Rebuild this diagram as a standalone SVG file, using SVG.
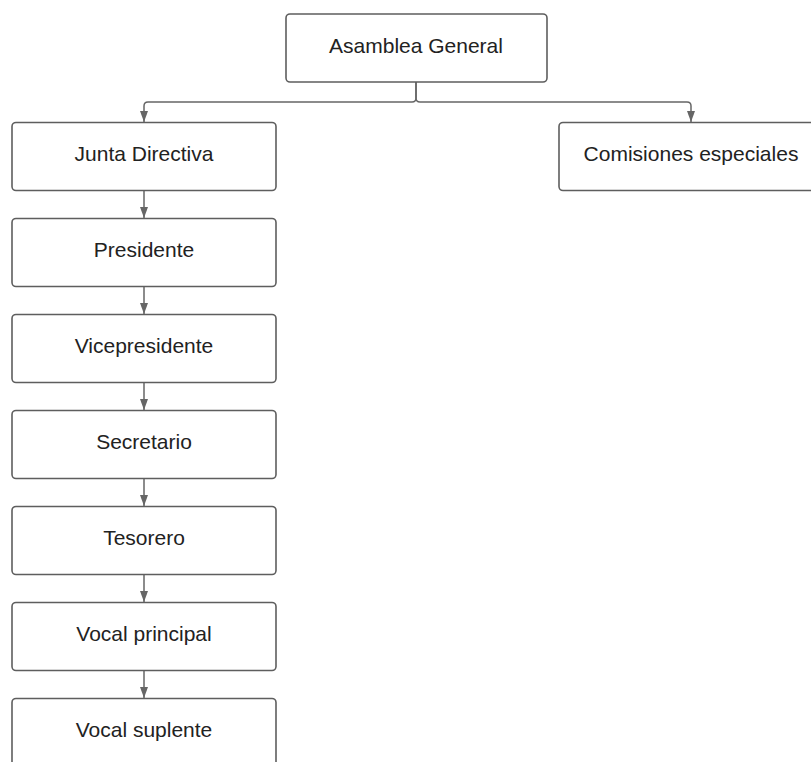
<svg xmlns="http://www.w3.org/2000/svg" width="811" height="762" viewBox="0 0 811 762">
<defs>
<style>
.box{fill:#fff;stroke:#5e5e5e;stroke-width:1.6}
.lbl{font-family:"Liberation Sans",Arial,sans-serif;font-size:21px;fill:#222;text-anchor:middle}
.con{fill:none;stroke:#666;stroke-width:1.5}
</style>
<marker id="ah" markerUnits="userSpaceOnUse" markerWidth="11" markerHeight="10" viewBox="0 0 11 10" refX="11" refY="5" orient="auto">
<path d="M0,1 L11,5 L0,9 Z" fill="#666"/>
</marker>
</defs>
<rect width="811" height="762" fill="#fff"/>
<g id="connectors">
<path class="con" d="M416 82 V98 Q416 102 412 102 H148 Q144 102 144 106 V122" marker-end="url(#ah)"/>
<path class="con" d="M416 82 V98 Q416 102 420 102 H687 Q691 102 691 106 V122" marker-end="url(#ah)"/>
<path class="con" d="M144 191 V218" marker-end="url(#ah)"/>
<path class="con" d="M144 287 V314" marker-end="url(#ah)"/>
<path class="con" d="M144 383 V410" marker-end="url(#ah)"/>
<path class="con" d="M144 479 V506" marker-end="url(#ah)"/>
<path class="con" d="M144 575 V602" marker-end="url(#ah)"/>
<path class="con" d="M144 671 V698" marker-end="url(#ah)"/>
</g>
<g id="asamblea"><rect class="box" x="286" y="14" width="261" height="68" rx="4"/><text class="lbl" x="416" y="52.5">Asamblea General</text></g>
<g id="junta"><rect class="box" x="12" y="122.5" width="264" height="68" rx="4"/><text class="lbl" x="144" y="161">Junta Directiva</text></g>
<g id="comisiones"><rect class="box" x="559" y="122.5" width="264" height="68" rx="4"/><text class="lbl" x="691" y="161">Comisiones especiales</text></g>
<g id="presidente"><rect class="box" x="12" y="218.5" width="264" height="68" rx="4"/><text class="lbl" x="144" y="257">Presidente</text></g>
<g id="vicepresidente"><rect class="box" x="12" y="314.5" width="264" height="68" rx="4"/><text class="lbl" x="144" y="353">Vicepresidente</text></g>
<g id="secretario"><rect class="box" x="12" y="410.5" width="264" height="68" rx="4"/><text class="lbl" x="144" y="449">Secretario</text></g>
<g id="tesorero"><rect class="box" x="12" y="506.5" width="264" height="68" rx="4"/><text class="lbl" x="144" y="545">Tesorero</text></g>
<g id="vocal-principal"><rect class="box" x="12" y="602.5" width="264" height="68" rx="4"/><text class="lbl" x="144" y="641">Vocal principal</text></g>
<g id="vocal-suplente"><rect class="box" x="12" y="698.5" width="264" height="68" rx="4"/><text class="lbl" x="144" y="737">Vocal suplente</text></g>
</svg>
